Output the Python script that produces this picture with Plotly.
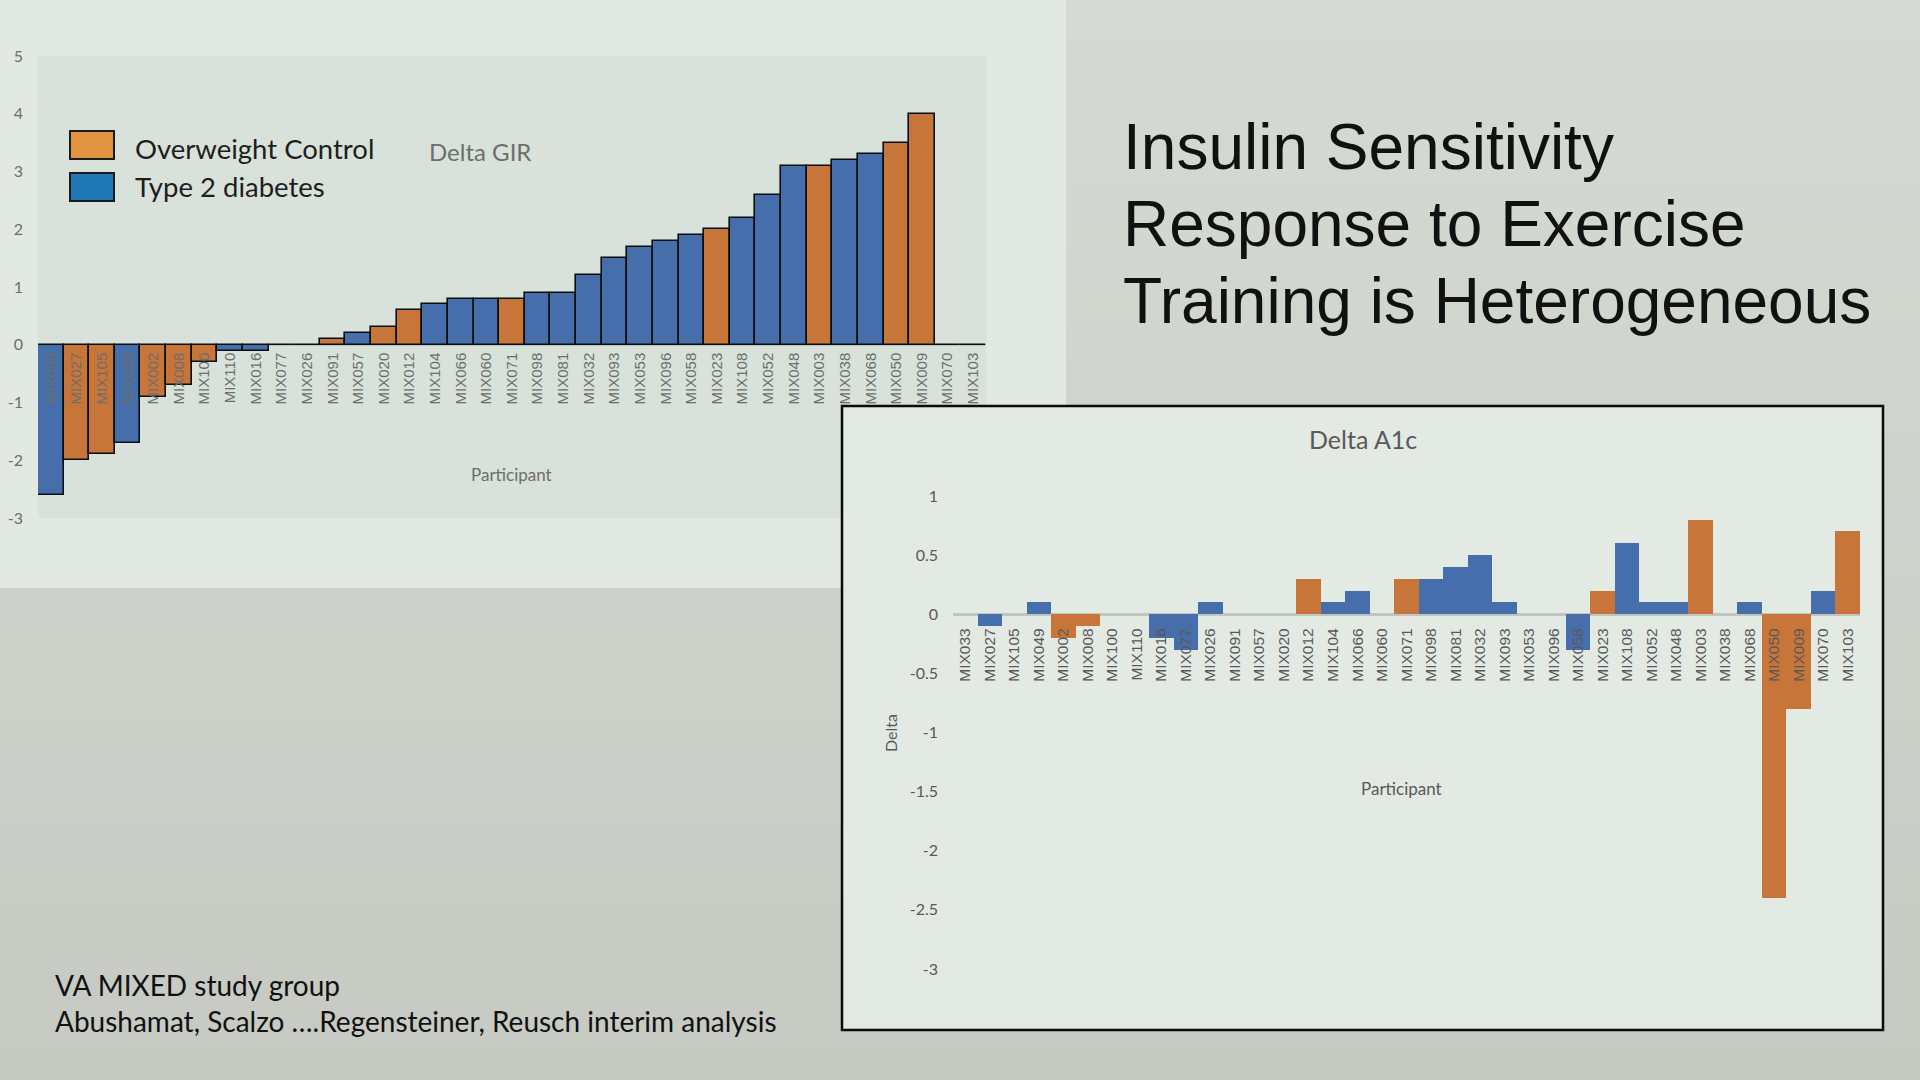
import plotly.graph_objects as go

# uczestnicy - ta sama kolejnosc na obu wykresach
participants = ["MIX033", "MIX027", "MIX105", "MIX049", "MIX002", "MIX008", "MIX100", "MIX110",
                "MIX016", "MIX077", "MIX026", "MIX091", "MIX057", "MIX020", "MIX012", "MIX104",
                "MIX066", "MIX060", "MIX071", "MIX098", "MIX081", "MIX032", "MIX093", "MIX053",
                "MIX096", "MIX058", "MIX023", "MIX108", "MIX052", "MIX048", "MIX003", "MIX038",
                "MIX068", "MIX050", "MIX009", "MIX070", "MIX103"]

# Delta GIR
gir = [-2.6, -2.0, -1.9, -1.7, -0.9, -0.7, -0.3, -0.1,
       -0.1, 0, 0, 0.1, 0.2, 0.3, 0.6, 0.7,
       0.8, 0.8, 0.8, 0.9, 0.9, 1.2, 1.5, 1.7,
       1.8, 1.9, 2.0, 2.2, 2.6, 3.1, 3.1, 3.2,
       3.3, 3.5, 4.0, 0, 0]
# O = overweight control, D = type 2 diabetes
gir_group = ["D", "O", "O", "D", "O", "O", "O", "D",
             "D", "D", "D", "O", "D", "O", "O", "D",
             "D", "D", "O", "D", "D", "D", "D", "D",
             "D", "D", "O", "D", "D", "D", "O", "D",
             "D", "O", "O", "D", "D"]

# Delta A1c
a1c = [0, -0.1, 0, 0.1, -0.2, -0.1, 0, 0,
       -0.2, -0.3, 0.1, 0, 0, 0, 0.3, 0.1,
       0.2, 0, 0.3, 0.3, 0.4, 0.5, 0.1, 0,
       0, -0.3, 0.2, 0.6, 0.1, 0.1, 0.8, 0,
       0.1, -2.4, -0.8, 0.2, 0.7]
a1c_group = ["D", "D", "D", "D", "O", "O", "D", "D",
             "D", "D", "D", "D", "D", "D", "O", "D",
             "D", "D", "O", "D", "D", "D", "D", "D",
             "D", "D", "O", "D", "D", "D", "O", "D",
             "D", "O", "O", "D", "O"]

gir_ticks = [5, 4, 3, 2, 1, 0, -1, -2, -3]
gir_ticktext = ["5", "4", "3", "2", "1", "0", "-1", "-2", "-3"]
a1c_ticks = [1, 0.5, 0, -0.5, -1, -1.5, -2, -2.5, -3]
a1c_ticktext = ["1", "0.5", "0", "-0.5", "-1", "-1.5", "-2", "-2.5", "-3"]

W, H = 1920, 1080
ORANGE = "#C8753A"
BLUE = "#466EAA"
colors = {"O": ORANGE, "D": BLUE}


def px_x(x):
    return x / W


def px_y(y):
    return 1 - y / H


# domeny wykresow w pikselach
top_x = [px_x(38), px_x(986)]
top_y = [px_y(518), px_y(56)]
bot_x = [px_x(953), px_x(1860)]
bot_y = [px_y(969), px_y(496)]

fig = go.Figure()

fig.add_trace(go.Bar(
    x=participants, y=gir,
    marker=dict(color=[colors[g] for g in gir_group], line=dict(color="#0A0F14", width=1.6)),
    xaxis="x", yaxis="y", showlegend=False
))
fig.add_trace(go.Bar(
    x=participants, y=a1c,
    marker=dict(color=[colors[g] for g in a1c_group], line=dict(width=0)),
    xaxis="x2", yaxis="y2", showlegend=False
))

tick_font = dict(family="Liberation Sans", size=15, color="#6B6F6B")

fig.update_layout(
    width=W, height=H,
    margin=dict(l=0, r=0, t=0, b=0, autoexpand=False),
    paper_bgcolor="#CBD0C9",
    plot_bgcolor="rgba(0,0,0,0)",
    bargap=0,
    xaxis=dict(domain=top_x, anchor="free", position=top_y[0] + 3 / 8 * (top_y[1] - top_y[0]),
               type="category", tickangle=-90, tickfont=tick_font, showgrid=False,
               showline=False, ticks="", ticklabelstandoff=4, automargin=False),
    yaxis=dict(domain=top_y, anchor="x", range=[-3, 5], tickvals=gir_ticks, ticktext=gir_ticktext,
               tickfont=dict(family="Lato", size=16, color="#6B6F6B"), showgrid=False,
               zeroline=True, zerolinecolor="#BFC6BF", zerolinewidth=2,
               ticks="", ticklabelstandoff=14, automargin=False),
    xaxis2=dict(domain=bot_x, anchor="free", position=bot_y[0] + 3 / 4 * (bot_y[1] - bot_y[0]),
                type="category", tickangle=-90, tickfont=dict(family="Liberation Sans", size=15.5, color="#595959"),
                showgrid=False, showline=False, ticks="", ticklabelstandoff=10, automargin=False),
    yaxis2=dict(domain=bot_y, anchor="x2", range=[-3, 1], tickvals=a1c_ticks, ticktext=a1c_ticktext,
                tickfont=dict(family="Lato", size=16, color="#595959"), showgrid=False,
                zeroline=True, zerolinecolor="#BFC6BF", zerolinewidth=2.5,
                ticks="", ticklabelstandoff=14, automargin=False),
)

# tlo slajdu - lagodne przejscie od jasniejszej gory do ciemniejszego dolu
shapes = []
bands = 30
top_rgb = (213, 218, 212)
bottom_rgb = (198, 202, 195)
for i in range(bands):
    t = i / (bands - 1)
    c = tuple(round(top_rgb[k] + (bottom_rgb[k] - top_rgb[k]) * t) for k in range(3))
    shapes.append(dict(type="rect", xref="paper", yref="paper", x0=0, x1=1,
                       y0=1 - (i + 1) / bands, y1=1 - i / bands + 0.001,
                       fillcolor="rgb(%d,%d,%d)" % c, line=dict(width=0), layer="below"))

shapes += [
    dict(type="rect", xref="paper", yref="paper", x0=0, x1=px_x(1066), y0=px_y(588), y1=1,
         fillcolor="#E2E8E2", line=dict(width=0), layer="below"),
    dict(type="rect", xref="paper", yref="paper", x0=top_x[0], x1=top_x[1], y0=top_y[0], y1=top_y[1],
         fillcolor="#D8E1DA", line=dict(width=0), layer="below"),
    dict(type="rect", xref="paper", yref="paper", x0=px_x(842), x1=px_x(1883), y0=px_y(1030), y1=px_y(406),
         fillcolor="#E3E9E3", line=dict(width=2.5, color="#0A0A0A"), layer="below"),
    # legenda
    dict(type="rect", xref="paper", yref="paper", x0=px_x(70), x1=px_x(114), y0=px_y(159), y1=px_y(131),
         fillcolor="#E2933F", line=dict(width=2, color="#1A1A1A")),
    dict(type="rect", xref="paper", yref="paper", x0=px_x(70), x1=px_x(114), y0=px_y(201), y1=px_y(173),
         fillcolor="#1F77B4", line=dict(width=2, color="#1A1A1A")),
]
fig.update_layout(shapes=shapes)


def note(text, x, y, size, color, family="Lato", xanchor="left", angle=0):
    fig.add_annotation(text=text, x=px_x(x), y=px_y(y), xref="paper", yref="paper",
                       showarrow=False, xanchor=xanchor, yanchor="middle", textangle=angle,
                       font=dict(family=family, size=size, color=color))


note("Overweight Control", 133, 148, 27.5, "#1E1E1E")
note("Type 2 diabetes", 133, 186, 27.5, "#1E1E1E")
note("Delta GIR", 427, 151, 24, "#6B706B")
note("Participant", 511, 474, 17, "#6B6F6B", xanchor="center")

note("Delta A1c", 1363, 439, 25, "#595959", xanchor="center")
note("Participant", 1401, 788, 17, "#595959", xanchor="center")
note("Delta", 890, 733, 16, "#595959", xanchor="center", angle=-90)

title_lines = ["Insulin Sensitivity", "Response to Exercise", "Training is Heterogeneous"]
for i, line in enumerate(title_lines):
    note(line, 1121, 147 + i * 77, 64, "#111111", family="Liberation Sans")

note("VA MIXED study group", 53, 985, 28, "#111111")
note("Abushamat, Scalzo \u2026.Regensteiner, Reusch interim analysis", 53, 1021, 28, "#111111")

# wykres przyklejony do lewego gornego rogu strony
pin = ("document.body.style.margin='0';document.body.style.overflow='hidden';"
       "var d=document.getElementById('{plot_id}');d.style.position='absolute';"
       "d.style.top='0px';d.style.left='0px';")
fig.write_html("out.html", config={"displayModeBar": False}, post_script=pin)
